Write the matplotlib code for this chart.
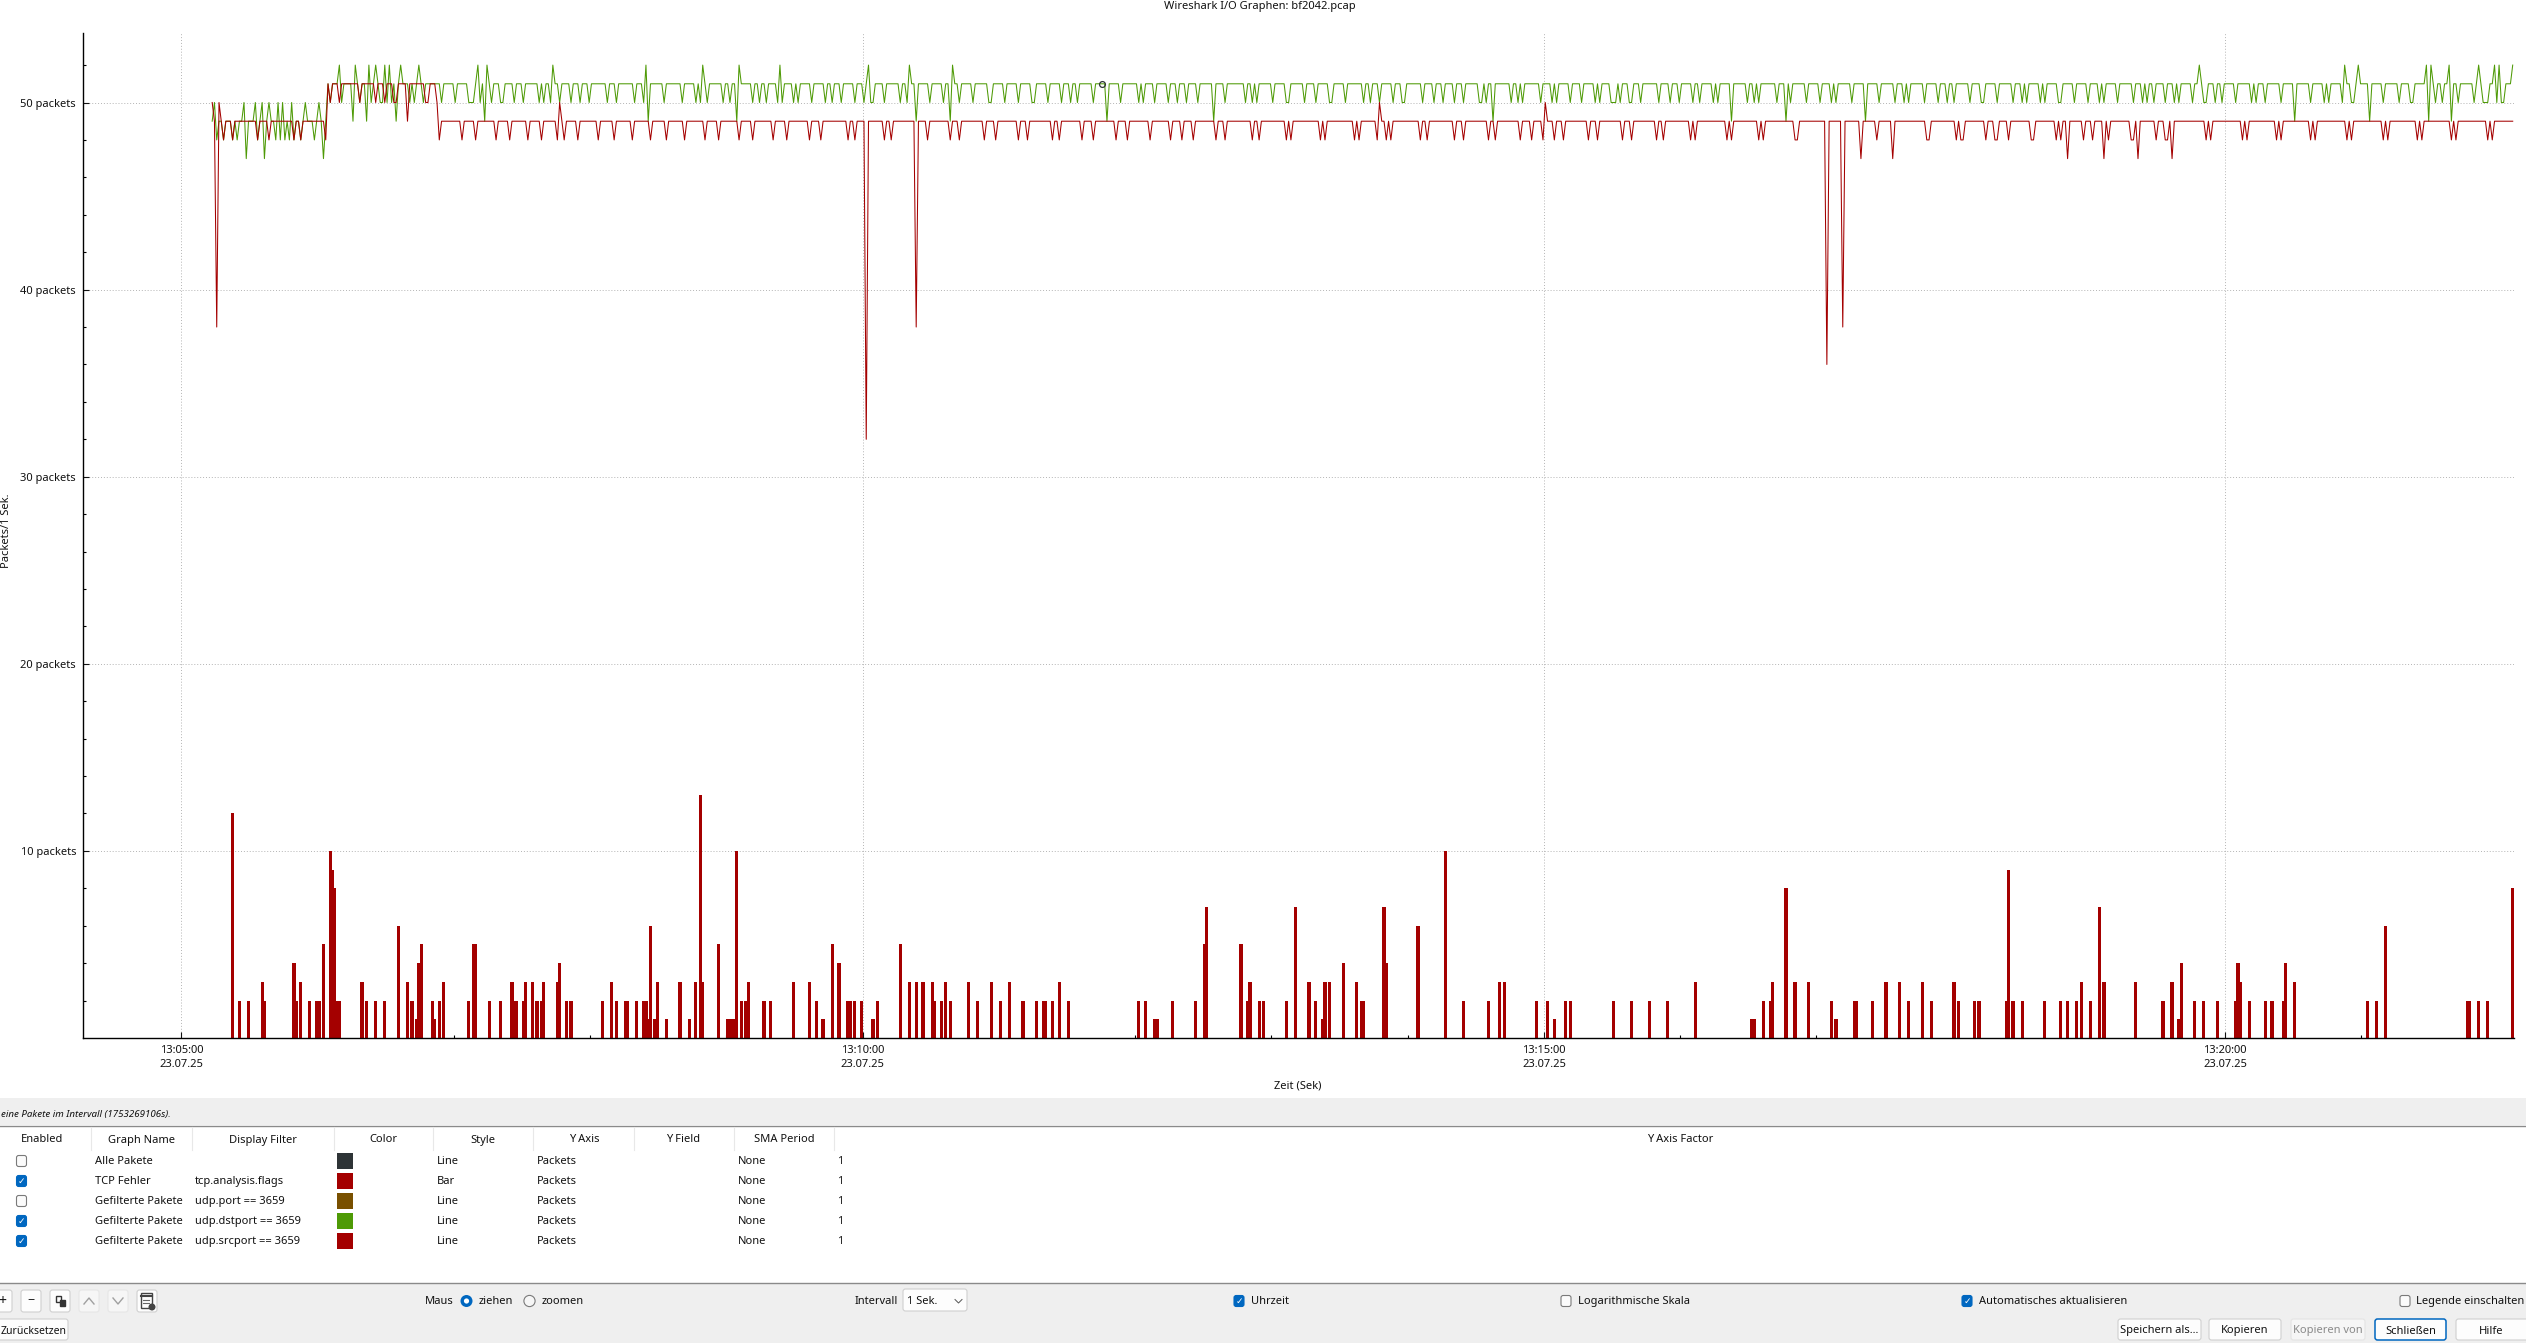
import matplotlib
matplotlib.use("Agg")
import numpy as np
import matplotlib.pyplot as plt
from matplotlib.patches import Rectangle, FancyBboxPatch, Circle

# ---- data, in seconds after 13:05:00 ----
first_second = 13
last_second = 1026

green_early_peaks_50 = [14, 27, 32, 35, 38, 42, 44, 48, 54, 60]
green_early_dips_48 = [15, 18, 22, 24, 33, 41, 43, 45, 47, 49, 52, 58]
green_early_dips_47 = [28, 36, 62]
green_peaks_52 = [69, 76, 82, 85, 89, 91, 96, 104, 130, 134, 163, 204, 229, 245, 263, 302, 320, 339,
                  888, 952, 958, 988, 990, 998, 1011, 1018, 1020, 1026]
green_dips_49 = [75, 81, 94, 133, 205, 244, 323, 338, 407, 454, 577, 682, 706, 741, 930, 963, 989, 999]
green_dips_50 = [65, 70, 78, 83, 87, 88, 90, 92, 100, 102, 106, 114, 120, 126, 127, 128, 131, 136, 140, 141,
                 146, 150, 157, 159, 162, 166, 171, 175, 179, 187, 191, 199, 203, 212, 220, 226, 228, 231, 238, 241,
                 251, 254, 257, 262, 264, 269, 271, 277, 283, 286, 290, 296, 300, 303, 304, 309, 316, 319, 329, 335,
                 342, 348, 355, 356, 362, 368, 374, 375, 381, 387, 391, 394, 401, 413, 421, 423, 428, 434,
                 438, 442, 447, 459, 468, 471, 473, 480, 486, 487, 494, 499, 505, 506, 512, 520, 523, 527,
                 533, 537, 538, 546, 551, 555, 560, 564, 571, 572, 574, 585, 588, 590, 598, 603, 605, 611, 616,
                 622, 624, 629, 630, 631, 633, 637, 638, 642, 650, 655, 659, 665, 668, 674, 676, 689, 692, 694,
                 702, 708, 715, 721, 726, 728, 735, 747, 754, 758, 760, 767, 773, 777, 780, 787,
                 792, 793, 799, 806, 810, 812, 818, 820, 826, 827, 833, 839, 844, 846, 852, 859, 863, 865, 868,
                 873, 877, 879, 885, 890, 891, 895, 898, 904, 911, 913, 917, 924, 937, 943, 945, 951, 955, 956,
                 969, 976, 981, 982, 992, 995, 1002, 1009, 1013, 1014, 1015, 1019, 1021, 1022]

red_first_values = [50, 49, 38, 50]          # seconds 13 to 16
red_early_dips_48 = [18, 22, 33, 38, 49, 52, 63]
red_high_start = [64, 66, 67, 68, 70, 71, 72, 73, 74, 75, 76, 77, 79, 80, 81, 82, 83, 84, 86, 87, 88, 90, 91, 92,
                  95, 96, 97, 98, 100, 101, 102, 103, 104, 105, 106, 109, 110, 111]   # 51 packets
red_values_50 = [65, 69, 78, 85, 89, 93, 94, 107, 108, 112, 166, 527, 600]
red_dips_48 = [113, 123, 129, 138, 144, 152, 158, 165, 168, 174, 183, 190, 198, 206, 213, 221, 230, 236, 245, 251, 260,
               266, 276, 281, 293, 296, 309, 312, 328, 338, 342, 353, 358, 368, 372, 383, 386, 396, 401,
               411, 416, 426, 435, 440, 445, 455, 459, 471, 474, 486, 488, 501, 503, 516, 518, 526,
               530, 532, 545, 548, 560, 564, 575, 578, 589, 594, 599, 604, 608, 619, 623, 634, 638, 649, 652,
               664, 666, 680, 682, 694, 696, 710, 711, 746, 768, 769, 781, 783, 784,
               794, 798, 799, 804, 814, 815, 825, 827, 837, 841, 848, 858, 859, 869, 873, 874,
               891, 893, 907, 909, 922, 924, 937, 939, 953, 955, 969, 971, 984, 986, 999, 1001, 1015, 1017]
red_dips_47 = [739, 753, 830, 846, 861, 876]
red_value_49_low = [99]
red_spike_seconds = [301, 323, 724, 731]
red_spike_values = [32, 38, 36, 38]

bar_seconds = [22, 25, 29, 35, 36, 49, 50, 52, 56, 59, 60, 62, 65, 66, 67, 68, 69, 79, 81, 85, 89, 95, 99, 101, 103, 104,
               105, 110, 111, 113, 115, 126, 128, 129, 135, 140, 145, 146, 147, 150, 151, 154, 156, 158, 159, 165, 166,
               169, 171, 185, 189, 191, 195, 196, 200, 203, 204, 205, 206, 208, 209, 213, 219, 223, 226, 228, 229, 236,
               240, 241, 242, 243, 244, 246, 248, 249, 256, 259, 269, 276, 279, 282, 286, 289, 293, 294, 296, 299, 304,
               306, 316, 320, 323, 326, 330, 331, 334, 336, 338, 346, 350, 356, 360, 364, 370, 376, 379, 380, 383, 386,
               390, 421, 424, 428, 429, 436, 446, 450, 451, 466, 469, 470, 474, 476, 486, 490, 496, 499, 502, 503, 505,
               511, 517, 519, 520, 529, 530, 544, 556, 564, 575, 580, 582, 596, 601, 604, 609, 611, 630, 638, 646, 654,
               666, 691, 692, 696, 699, 700, 706, 710, 716, 726, 728, 736, 737, 744, 750, 756, 760, 766, 770, 780, 782,
               789, 791, 803, 804, 806, 810, 820, 827, 830, 834, 836, 840, 844, 846, 860, 872, 876, 879, 880, 886, 890,
               896, 904, 905, 906, 910, 917, 920, 925, 926, 930, 962, 966, 970, 1006, 1007, 1011, 1015, 1026]
bar_values = [12, 2, 2, 3, 2, 4, 2, 3, 2, 2, 2, 5, 10, 9, 8, 2, 2, 3, 2, 2, 2, 6, 3, 2, 1, 4,
              5, 2, 1, 2, 3, 2, 5, 5, 2, 2, 3, 2, 2, 2, 3, 3, 2, 2, 3, 3, 4,
              2, 2, 2, 3, 2, 2, 2, 2, 2, 2, 1, 6, 1, 3, 1, 3, 1, 3, 13, 3, 5,
              1, 1, 1, 1, 10, 2, 2, 3, 2, 2, 3, 3, 2, 1, 5, 4, 2, 2, 2, 2, 1,
              2, 5, 3, 3, 3, 3, 2, 2, 3, 2, 3, 2, 3, 2, 3, 2, 2, 2, 2, 2, 3,
              2, 2, 2, 1, 1, 2, 2, 5, 7, 5, 2, 3, 2, 2, 2, 7, 3, 2, 1, 3, 3,
              4, 3, 2, 2, 7, 4, 6, 10, 2, 2, 3, 3, 2, 2, 1, 2, 2, 2, 2, 2, 2,
              3, 1, 1, 2, 2, 3, 8, 3, 3, 2, 1, 2, 2, 2, 3, 3, 2, 3, 2, 3, 2,
              2, 2, 2, 9, 2, 2, 2, 2, 2, 2, 3, 2, 7, 3, 3, 2, 3, 1, 4, 2, 2,
              2, 2, 4, 3, 2, 2, 2, 2, 4, 3, 2, 2, 6, 2, 2, 2, 2, 8]

y_ticks = [10, 20, 30, 40, 50]
x_tick_seconds = [0, 300, 600, 900]
x_tick_labels = ["13:05:00\n23.07.25", "13:10:00\n23.07.25", "13:15:00\n23.07.25", "13:20:00\n23.07.25"]
tracer_second = 405

col_headers = ["Enabled", "Graph Name", "Display Filter", "Color", "Style", "Y Axis", "Y Field", "SMA Period", "Y Axis Factor"]
row_enabled = [False, True, False, True, True]
row_names = ["Alle Pakete", "TCP Fehler", "Gefilterte Pakete", "Gefilterte Pakete", "Gefilterte Pakete"]
row_filters = ["", "tcp.analysis.flags", "udp.port == 3659", "udp.dstport == 3659", "udp.srcport == 3659"]
row_colors = ["#2e3436", "#a40000", "#795000", "#4e9a06", "#a40000"]
row_styles = ["Line", "Bar", "Line", "Line", "Line"]

# ---- series ----
seconds = np.arange(first_second, last_second + 1)
green = np.where(seconds < 64, 49, 51)
red = np.full(seconds.shape, 49)

def put(series, where, value):
    for s in where:
        series[s - first_second] = value

put(green, green_early_peaks_50, 50)
put(green, green_early_dips_48, 48)
put(green, green_early_dips_47, 47)
put(green, green_dips_50, 50)
put(green, green_dips_49, 49)
put(green, green_peaks_52, 52)

put(red, red_high_start, 51)
put(red, red_early_dips_48, 48)
put(red, red_values_50, 50)
put(red, red_dips_48, 48)
put(red, red_dips_47, 47)
put(red, red_value_49_low, 49)
red[:len(red_first_values)] = red_first_values
for s, v in zip(red_spike_seconds, red_spike_values):
    red[s - first_second] = v

# ---- figure ----
W, H = 2526, 1343
plt.rcParams["font.family"] = ["Noto Sans", "DejaVu Sans"]
fig = plt.figure(figsize=(W / 100, H / 100), dpi=100, facecolor="white")

ui = fig.add_axes([0, 0, 1, 1], zorder=0)
ui.set_xlim(0, W)
ui.set_ylim(H, 0)
ui.axis("off")

LEFT, RIGHT, TOP, BOTTOM = 83, 2514, 33, 1038
PX_PER_SEC = 2.271
PX_PER_PKT = 18.71
OFFSET = 0.6   # samples sit this far after the whole second

ax = fig.add_axes([LEFT / W, 1 - BOTTOM / H, (RIGHT - LEFT) / W, (BOTTOM - TOP) / H], zorder=2)
ax.patch.set_alpha(0)
ax.set_xlim((LEFT - 181.3) / PX_PER_SEC, (RIGHT - 181.3) / PX_PER_SEC)
ax.set_ylim(0, (BOTTOM - TOP) / PX_PER_PKT)
ax.bar(np.array(bar_seconds) + OFFSET, bar_values, width=1.4, color="#a40000", linewidth=0, zorder=2)
ax.plot(seconds + OFFSET, green, color="#4e9a06", lw=0.75, zorder=3)
ax.plot(seconds + OFFSET, red, color="#a40000", lw=0.75, zorder=4)
ax.plot([tracer_second + OFFSET], [green[tracer_second - first_second]], "o", ms=4.2, mfc="none",
        mec="#2e3436", mew=0.9, zorder=5, clip_on=False)

for sp in ("top", "right"):
    ax.spines[sp].set_visible(False)
for sp in ("left", "bottom"):
    ax.spines[sp].set_linewidth(1.0)
ax.set_yticks(y_ticks)
ax.set_yticklabels([f"{v} packets" for v in y_ticks])
ax.set_yticks(np.arange(2, 54, 2), minor=True)
ax.set_xticks(x_tick_seconds)
ax.set_xticklabels(x_tick_labels, linespacing=1.32)
ax.set_xticks(np.arange(60, 1020, 60), minor=True)
ax.tick_params(which="major", direction="in", length=4, width=0.8, labelsize=8, colors="#111111", pad=5)
ax.tick_params(which="minor", direction="in", length=2, width=0.8)
ax.grid(True, which="major", color="#b4b4b4", lw=0.7, ls=(0, (1, 2)), zorder=1)
ax.set_axisbelow(True)

ui.text(1260, 6, "Wireshark I/O Graphen: bf2042.pcap", ha="center", va="center", fontsize=8, color="#111111")
ui.text(1298, 1086, "Zeit (Sek)", ha="center", va="center", fontsize=8, color="#111111")
ui.text(7, 531, "Packets/1 Sek.", ha="center", va="center", rotation=90, fontsize=8, color="#111111")

# ---- window panels ----
PANEL = "#efefef"
ui.add_patch(Rectangle((0, 1098), W, 27, fc=PANEL, ec="none"))
ui.add_patch(Rectangle((0, 1283), W, 60, fc=PANEL, ec="none"))
ui.plot([0, W], [1125.5, 1125.5], color="#8a8a8a", lw=1)
ui.plot([0, W], [1282.5, 1282.5], color="#8a8a8a", lw=1)
ui.text(1, 1114, "eine Pakete im Intervall (1753269106s).", style="italic", ha="left", va="center",
        fontsize=7, color="#111111")


def checkbox(cx, cy, on):
    fc, ec = ("#0067c0", "#0067c0") if on else ("#fbfbfb", "#7a7a7a")
    ui.add_patch(FancyBboxPatch((cx - 5, cy - 5.5), 10, 11, boxstyle="round,pad=0,rounding_size=2.2",
                                fc=fc, ec=ec, lw=0.8))
    if on:
        ui.text(cx, cy, "\u2713", color="white", ha="center", va="center", fontsize=6.5, family="DejaVu Sans")


def label(x, y, s, ha="left", color="#111111", size=8):
    ui.text(x, y + 0.5, s, ha=ha, va="center", fontsize=size, color=color)


def button(x0, x1, y0, y1, s=None, color="#111111", ec="#d0d0d0", fc="#fdfdfd", lw=0.8, size=8, tx=None):
    ui.add_patch(FancyBboxPatch((x0, y0), x1 - x0, y1 - y0, boxstyle="round,pad=0,rounding_size=2.5",
                                fc=fc, ec=ec, lw=lw))
    if s:
        label((x0 + x1) / 2 if tx is None else tx, (y0 + y1) / 2 + 1, s, ha="center", color=color, size=size)


for sep in (91, 192, 333.5, 433, 533, 634, 734, 833.5):
    ui.plot([sep, sep], [1127, 1150], color="#e8e8e8", lw=0.8)
for cx, s in zip((42, 142, 263, 383.5, 483, 584, 683, 784, 1680), col_headers):
    label(cx, 1139.5, s, ha="center")

for k in range(5):
    y = 1161 + 20 * k
    checkbox(21.5, y, row_enabled[k])
    label(95, y, row_names[k])
    label(195, y, row_filters[k])
    ui.add_patch(Rectangle((337, y - 8), 16, 16, fc=row_colors[k], ec="none"))
    label(437, y, row_styles[k])
    label(537, y, "Packets")
    label(738, y, "None")
    label(837, y, "1")

# toolbar
ROW1, ROW2 = 1301, 1331
for x0, enabled in ((-8, True), (21, True), (50, True), (79, False), (108, False), (137, True)):
    button(x0, x0 + 20, ROW1 - 11, ROW1 + 11, fc="#fdfdfd" if enabled else "#f6f6f6",
           ec="#d0d0d0" if enabled else "#e6e6e6")
label(2, ROW1, "+", ha="center", size=10)
label(31, ROW1 - 1, "\u2212", ha="center", size=9)
ui.add_patch(Rectangle((56, ROW1 - 5), 5, 6, fc="none", ec="#333333", lw=1))
ui.add_patch(Rectangle((60, ROW1 - 1), 5, 6, fc="#333333", ec="#333333", lw=1))
ui.plot([84, 89, 94], [ROW1 + 3, ROW1 - 3, ROW1 + 3], color="#a0a0a0", lw=1)
ui.plot([113, 118, 123], [ROW1 - 3, ROW1 + 3, ROW1 - 3], color="#a0a0a0", lw=1)
ui.add_patch(Rectangle((141, ROW1 - 8), 11, 15, fc="none", ec="#444444", lw=1))
ui.plot([141, 152], [ROW1 - 5, ROW1 - 5], color="#444444", lw=1.5)
ui.plot([143, 149], [ROW1 - 1, ROW1 - 1], color="#666666", lw=0.8)
ui.plot([143, 149], [ROW1 + 2, ROW1 + 2], color="#666666", lw=0.8)
ui.add_patch(Circle((152, ROW1 + 6), 3.5, fc="#444444", ec="none"))

label(425, ROW1, "Maus")
ui.add_patch(Circle((466.5, ROW1), 6, fc="#0067c0", ec="none"))
ui.add_patch(Circle((466.5, ROW1), 2.6, fc="white", ec="none"))
label(479, ROW1, "ziehen")
ui.add_patch(Circle((529.5, ROW1), 5.6, fc="#f6f6f6", ec="#7a7a7a", lw=0.8))
label(542, ROW1, "zoomen")
label(855, ROW1, "Intervall")
button(903, 967, 1289, 1311)
label(907, ROW1, "1 Sek.")
ui.plot([955, 958.5, 962], [ROW1 - 1.5, ROW1 + 2, ROW1 - 1.5], color="#555555", lw=0.7)

for bx, tx, on, s in ((1239, 1251, True, "Uhrzeit"), (1566, 1578, False, "Logarithmische Skala"),
                      (1967, 1979, True, "Automatisches aktualisieren"), (2405, 2416, False, "Legende einschalten")):
    checkbox(bx, ROW1, on)
    label(tx, ROW1, s)

button(-10, 68, 1319, 1340, "Zurücksetzen", size=7.5, tx=34)
button(2118, 2201, 1319, 1340, "Speichern als...")
button(2209, 2281, 1319, 1340, "Kopieren")
button(2291, 2365, 1319, 1340, "Kopieren von", color="#8a8a8a", fc="#f6f6f6", ec="#e4e4e4")
button(2375, 2446, 1319, 1340, "Schließen", ec="#0067c0", lw=1.1)
button(2456, 2535, 1319, 1340, "Hilfe", tx=2491)

fig.savefig("out.png", dpi=100)
